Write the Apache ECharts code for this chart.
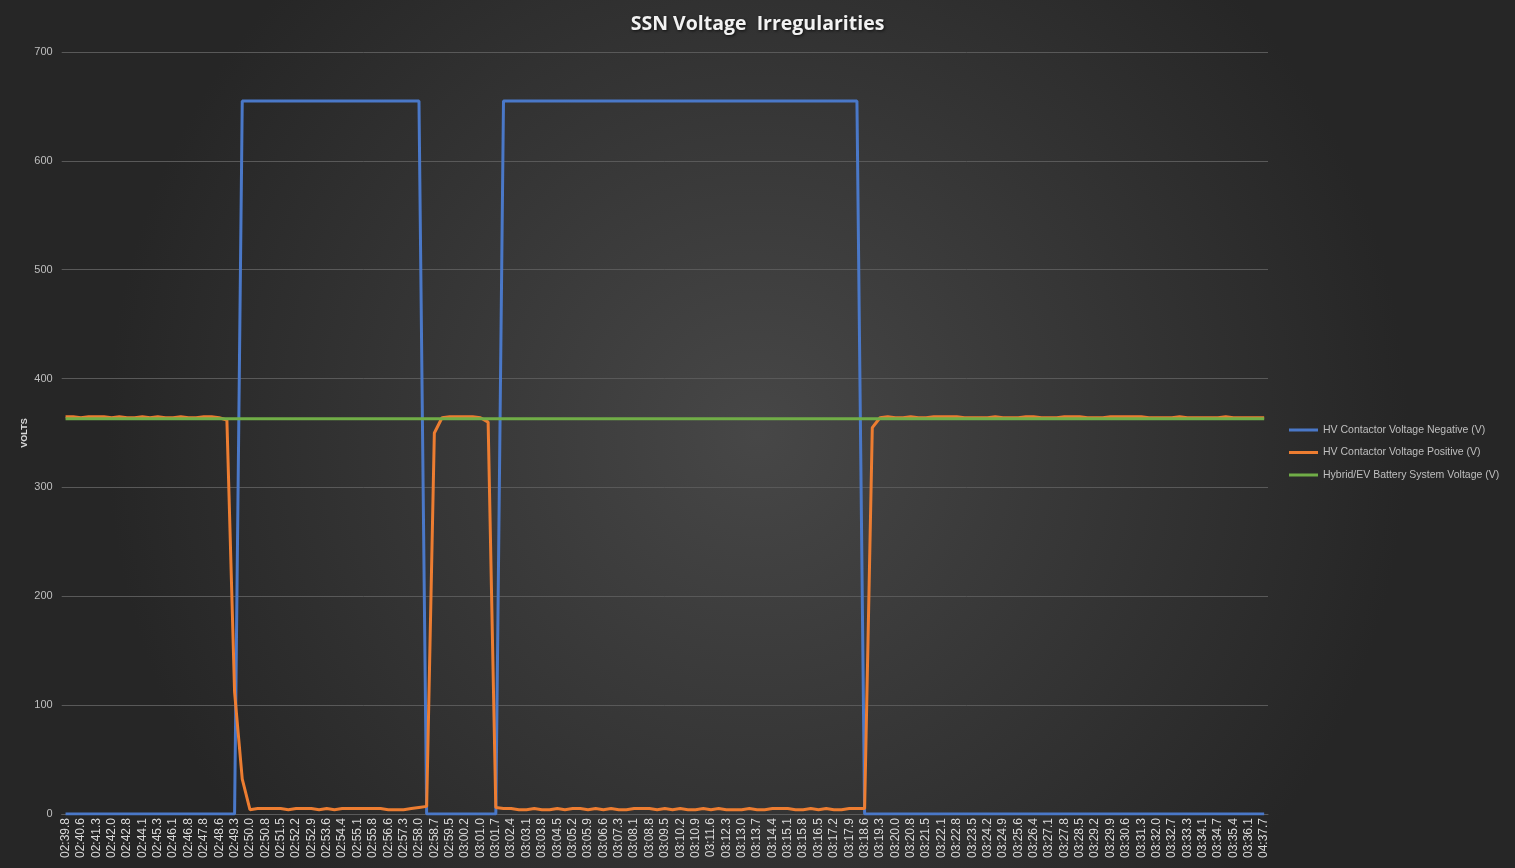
<!DOCTYPE html>
<html>
<head>
<meta charset="utf-8">
<style>
  html, body { margin: 0; padding: 0; width: 100%; height: 100%; }
  #chart { width: 1515px; height: 868px; }
</style>
<script src="https://cdn.jsdelivr.net/npm/echarts@6/dist/echarts.min.js"></script>
</head>
<body>
<div id="chart"></div>
<script>
// Tick labels shown under the axis (one every second sample).
const tickLabels = ['02:39.8','02:40.6','02:41.3','02:42.0','02:42.8','02:44.1','02:45.3','02:46.1','02:46.8','02:47.8',
  '02:48.6','02:49.3','02:50.0','02:50.8','02:51.5','02:52.2','02:52.9','02:53.6','02:54.4','02:55.1',
  '02:55.8','02:56.6','02:57.3','02:58.0','02:58.7','02:59.5','03:00.2','03:01.0','03:01.7','03:02.4',
  '03:03.1','03:03.8','03:04.5','03:05.2','03:05.9','03:06.6','03:07.3','03:08.1','03:08.8','03:09.5',
  '03:10.2','03:10.9','03:11.6','03:12.3','03:13.0','03:13.7','03:14.4','03:15.1','03:15.8','03:16.5',
  '03:17.2','03:17.9','03:18.6','03:19.3','03:20.0','03:20.8','03:21.5','03:22.1','03:22.8','03:23.5',
  '03:24.2','03:24.9','03:25.6','03:26.4','03:27.1','03:27.8','03:28.5','03:29.2','03:29.9','03:30.6',
  '03:31.3','03:32.0','03:32.7','03:33.3','03:34.1','03:34.7','03:35.4','03:36.1','04:37.7'];

const seriesNames = ['HV Contactor Voltage Negative (V)', 'HV Contactor Voltage Positive (V)', 'Hybrid/EV Battery System Voltage (V)'];

// HV Contactor Voltage Negative (V), one value per sample
const negative = [
  0,0,0,0,0,0,0,0,0,0,
  0,0,0,0,0,0,0,0,0,0,
  0,0,0,655,655,655,655,655,655,655,
  655,655,655,655,655,655,655,655,655,655,
  655,655,655,655,655,655,655,0,0,0,
  0,0,0,0,0,0,0,655,655,655,
  655,655,655,655,655,655,655,655,655,655,
  655,655,655,655,655,655,655,655,655,655,
  655,655,655,655,655,655,655,655,655,655,
  655,655,655,655,655,655,655,655,655,655,
  655,655,655,655,0,0,0,0,0,0,
  0,0,0,0,0,0,0,0,0,0,
  0,0,0,0,0,0,0,0,0,0,
  0,0,0,0,0,0,0,0,0,0,
  0,0,0,0,0,0,0,0,0,0,
  0,0,0,0,0,0,0
];

// HV Contactor Voltage Positive (V)
const positive = [
  365,365,364,365,365,365,364,365,364,364,
  365,364,365,364,364,365,364,364,365,365,
  364,362,112,32,4,5,5,5,5,4,
  5,5,5,4,5,4,5,5,5,5,
  5,5,4,4,4,5,6,7,350,364,
  365,365,365,365,364,360,6,5,5,4,
  4,5,4,4,5,4,5,5,4,5,
  4,5,4,4,5,5,5,4,5,4,
  5,4,4,5,4,5,4,4,4,5,
  4,4,5,5,5,4,4,5,4,5,
  4,4,5,5,5,355,364,365,364,364,
  365,364,364,365,365,365,365,364,364,364,
  364,365,364,364,364,365,365,364,364,364,
  365,365,365,364,364,364,365,365,365,365,
  365,364,364,364,364,365,364,364,364,364,
  364,365,364,364,364,364,364
];

// Hybrid/EV Battery System Voltage (V)
const battery = [
  363,363,363,363,363,363,363,363,363,363,
  363,363,363,363,363,363,363,363,363,363,
  363,363,363,363,363,363,363,363,363,363,
  363,363,363,363,363,363,363,363,363,363,
  363,363,363,363,363,363,363,363,363,363,
  363,363,363,363,363,363,363,363,363,363,
  363,363,363,363,363,363,363,363,363,363,
  363,363,363,363,363,363,363,363,363,363,
  363,363,363,363,363,363,363,363,363,363,
  363,363,363,363,363,363,363,363,363,363,
  363,363,363,363,363,363,363,363,363,363,
  363,363,363,363,363,363,363,363,363,363,
  363,363,363,363,363,363,363,363,363,363,
  363,363,363,363,363,363,363,363,363,363,
  363,363,363,363,363,363,363,363,363,363,
  363,363,363,363,363,363,363
];

const colors = ['#4a78c8', '#ed7d31', '#70ad47'];

function toPoints(arr) {
  return arr.map((v, i) => [i, v]);
}

const labelPositions = tickLabels.map((t, k) => k * 2);

const chart = echarts.init(document.getElementById('chart'));
chart.setOption({
  backgroundColor: {
    type: 'radial', x: 0.5, y: 0.5, r: 0.75,
    colorStops: [{ offset: 0, color: '#474747' }, { offset: 1, color: '#262626' }]
  },
  animation: false,
  color: colors,
  title: {
    text: 'SSN Voltage  Irregularities',
    left: 'center',
    top: 9,
    textStyle: {
      color: '#f2f2f2', fontFamily: 'Open Sans', fontWeight: 'bold', fontSize: 19.5,
      textShadowColor: 'rgba(0,0,0,0.7)', textShadowBlur: 3, textShadowOffsetX: 1, textShadowOffsetY: 1
    }
  },
  legend: {
    orient: 'vertical',
    left: 1289,
    top: 423,
    padding: 0,
    itemGap: 8.5,
    itemWidth: 29,
    itemHeight: 3,
    icon: 'rect',
    data: seriesNames,
    textStyle: { color: '#bfbfbf', fontFamily: 'Liberation Sans', fontSize: 10.5, lineHeight: 14 }
  },
  grid: { left: 61.7, right: 247, top: 52, bottom: 54, containLabel: false },
  xAxis: {
    type: 'value',
    min: -0.5,
    max: 156.5,
    axisLine: { show: true, lineStyle: { color: '#5a5a5a' } },
    axisTick: { show: false },
    splitLine: { show: false },
    axisLabel: {
      customValues: labelPositions,
      rotate: 90,
      margin: 4,
      color: '#d9d9d9',
      fontFamily: 'Liberation Sans',
      fontSize: 12,
      formatter: v => tickLabels[Math.round(v / 2)]
    }
  },
  yAxis: {
    type: 'value',
    min: 0,
    max: 700,
    interval: 100,
    name: 'VOLTS',
    nameLocation: 'middle',
    nameGap: 33,
    nameMoveOverlap: false,
    nameTextStyle: { color: '#d9d9d9', fontFamily: 'Liberation Sans', fontWeight: 'bold', fontSize: 9 },
    axisLine: { show: false },
    axisTick: { show: false },
    axisLabel: { color: '#bfbfbf', fontFamily: 'Liberation Sans', fontSize: 11, margin: 9 },
    splitLine: { lineStyle: { color: '#595959', width: 1 } }
  },
  series: [
    { name: seriesNames[0], type: 'line', data: toPoints(negative), showSymbol: false, lineStyle: { width: 3 } },
    { name: seriesNames[1], type: 'line', data: toPoints(positive), showSymbol: false, lineStyle: { width: 3 } },
    { name: seriesNames[2], type: 'line', data: toPoints(battery), showSymbol: false, lineStyle: { width: 3 } }
  ]
});
</script>
</body>
</html>
